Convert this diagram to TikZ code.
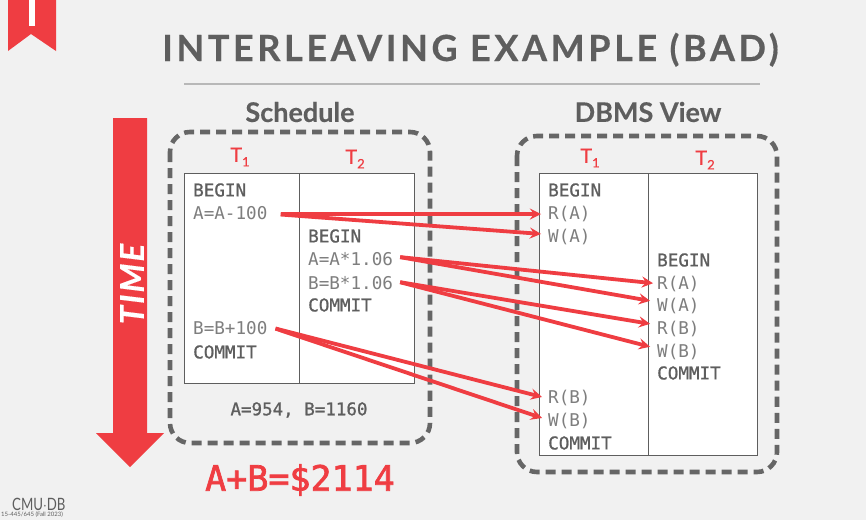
\documentclass[tikz,border=0pt]{standalone}
\usepackage{fontspec}
\setmainfont{Lato}
\setmonofont{DejaVu Sans Mono}
\newfontfamily\titlefont[LetterSpace=10,BoldFeatures={FakeBold=0.4}]{Lato}
\newfontfamily\headfont[BoldFeatures={FakeBold=0.3}]{Lato}
\newfontfamily\timefont[LetterSpace=6,BoldItalicFeatures={FakeBold=0.3}]{Lato}
\newfontfamily\txnfont[FakeBold=0.5]{Lato}
\newfontfamily\kwfont[FakeBold=1]{DejaVu Sans Mono}
\newfontfamily\sumfont[FakeBold=2]{DejaVu Sans Mono}
\usetikzlibrary{positioning}
\definecolor{slidebg}{HTML}{F1F1F1}
\definecolor{slidered}{HTML}{EF3D42}
\definecolor{slidegray}{HTML}{5E5E5E}
\newcommand{\txnlabel}[1]{T\raisebox{-4.5pt}{\fontsize{13}{13}\selectfont #1}}
\begin{document}
\begin{tikzpicture}
[x=1pt,y=-1pt,
  heading/.style = {font=\headfont\bfseries\fontsize{27}{27}\selectfont,text=slidegray,inner sep=0pt},
  txn/.style = {font=\txnfont\fontsize{20}{20}\selectfont,text=slidered,inner sep=0pt},
  cell/.style = {rectangle,draw=slidegray,line width=1pt,fill=white,anchor=north west,inner sep=0pt,outer sep=0pt},
  frame/.style = {draw=slidegray!95!white,line width=4.6pt,dash pattern=on 10pt off 6pt,rounded corners=20pt},
  op/.style = {font=\ttfamily\fontsize{17.6}{17.6}\selectfont,text=slidegray!80!white,anchor=west,inner xsep=6pt,inner ysep=0pt,text height=12.8pt,text depth=0pt},
  kw/.style = {op,font=\kwfont\fontsize{17.6}{17.6}\selectfont,text=slidegray},
  oparrow/.style = {-stealth,color=slidered,line width=3.8pt}]
\useasboundingbox[fill=slidebg] (0,0) rectangle (866,520);

% bookmark and title
\fill[slidered] (8,0) -- (56,0) -- (56,51) -- (31,34) -- (8,51) -- cycle;
\fill[white] (29,0) rectangle (35,26);
\node[inner sep=0pt,anchor=base west,text=slidegray] (title) at (162,61)
  {\titlefont\bfseries\fontsize{36}{36}\selectfont INTERLEAVING EXAMPLE (BAD)};
\draw[line width=1.5pt,draw=black!28] (184,84) -- (760,84);

\node[heading] (schedule) at (300,112) {Schedule};
\node[heading] (dbmsview) at (648,112) {DBMS View};

% time arrow
\fill[slidered] (113,118) -- (147,118) -- (147,433) -- (164,433) -- (130,467) -- (96,433) -- (113,433) -- cycle;
\node[rotate=90,inner sep=0pt,text=white,font=\timefont\bfseries\itshape\fontsize{33}{33}\selectfont] (time) at (132,284) {TIME};

% frames
\draw[frame] (170,132) rectangle (430,443);
\draw[frame] (517,136) rectangle (777,472);

% tables
\node[cell,minimum width=115pt,minimum height=210pt] (SL) at (184,173) {};
\node[cell,minimum width=115pt,minimum height=210pt] (SR) at (299,173) {};
\node[cell,minimum width=109pt,minimum height=282pt] (VL) at (539,173) {};
\node[cell,minimum width=109pt,minimum height=282pt] (VR) at (648,173) {};

\node[txn] (ST1) at (240,157) {\txnlabel{1}};
\node[txn] (ST2) at (355,159) {\txnlabel{2}};
\node[txn] (VT1) at (590,158) {\txnlabel{1}};
\node[txn] (VT2) at (705,160) {\txnlabel{2}};

% schedule
\node[kw] (S1) at (187,190) {BEGIN};
\node[op] (S2) at (187,213) {A=A-100};
\node[kw] (S3) at (302,236) {BEGIN};
\node[op] (S4) at (302,259) {A=A*1.06};
\node[op] (S5) at (302,283) {B=B*1.06};
\node[kw] (S6) at (302,305) {COMMIT};
\node[op] (S7) at (187,328) {B=B+100};
\node[kw] (S8) at (187,352) {COMMIT};

% dbms view
\node[kw] (V1) at (542,190) {BEGIN};
\node[op] (V2) at (542,213) {R(A)};
\node[op] (V3) at (542,236) {W(A)};
\node[kw] (V4) at (651,260) {BEGIN};
\node[op] (V5) at (651,283) {R(A)};
\node[op] (V6) at (651,305) {W(A)};
\node[op] (V7) at (651,328) {R(B)};
\node[op] (V8) at (651,351) {W(B)};
\node[kw] (V9) at (651,373) {COMMIT};
\node[op] (V10) at (542,397) {R(B)};
\node[op] (V11) at (542,420) {W(B)};
\node[kw] (V12) at (542,443) {COMMIT};

\node[font=\kwfont\fontsize{17.5}{17.5}\selectfont,text=slidegray,inner sep=0pt] (final) at (299,410) {A=954, B=1160};
\node[font=\sumfont\fontsize{35}{35}\selectfont,text=slidered,inner sep=0pt] (sum) at (300,480) {A+B=\$2114};
\node[font=\fontsize{17}{17}\selectfont,text=slidegray,inner sep=0pt,anchor=west,xscale=0.78] (logo) at (12,504) {CMU$\cdot$DB};
\node[font=\fontsize{6}{6}\selectfont,text=slidegray,inner sep=0pt,anchor=west] (course) at (1,515) {15-445/645 (Fall 2023)};

   \path[oparrow,shorten <=7pt,shorten >=1pt] ([yshift=-1pt]S2.east) edge ([yshift=-1pt]V2.west) ;
   \path[oparrow,shorten <=7pt,shorten >=1pt] ([yshift=-1pt]S2.east) edge ([yshift=2pt]V3.west) ;
   \path[oparrow,shorten <=1pt,shorten >=-2pt] ([yshift=2pt]S4.east) edge (V5.west) ;
   \path[oparrow,shorten <=1pt,shorten >=1pt] ([yshift=2pt]S4.east) edge ([yshift=4pt]V6.west) ;
   \path[oparrow,shorten <=1pt,shorten >=1pt] ([yshift=1pt]S5.east) edge ([yshift=4pt]V7.west) ;
   \path[oparrow,shorten <=1pt,shorten >=1pt] ([yshift=1pt]S5.east) edge ([yshift=4pt]V8.west) ;
   \path[oparrow,shorten <=2pt] (S7.east) edge (V10.west) ;
   \path[oparrow,shorten <=2pt] (S7.east) edge ([yshift=2pt]V11.west) ;
\end{tikzpicture}
\end{document}
